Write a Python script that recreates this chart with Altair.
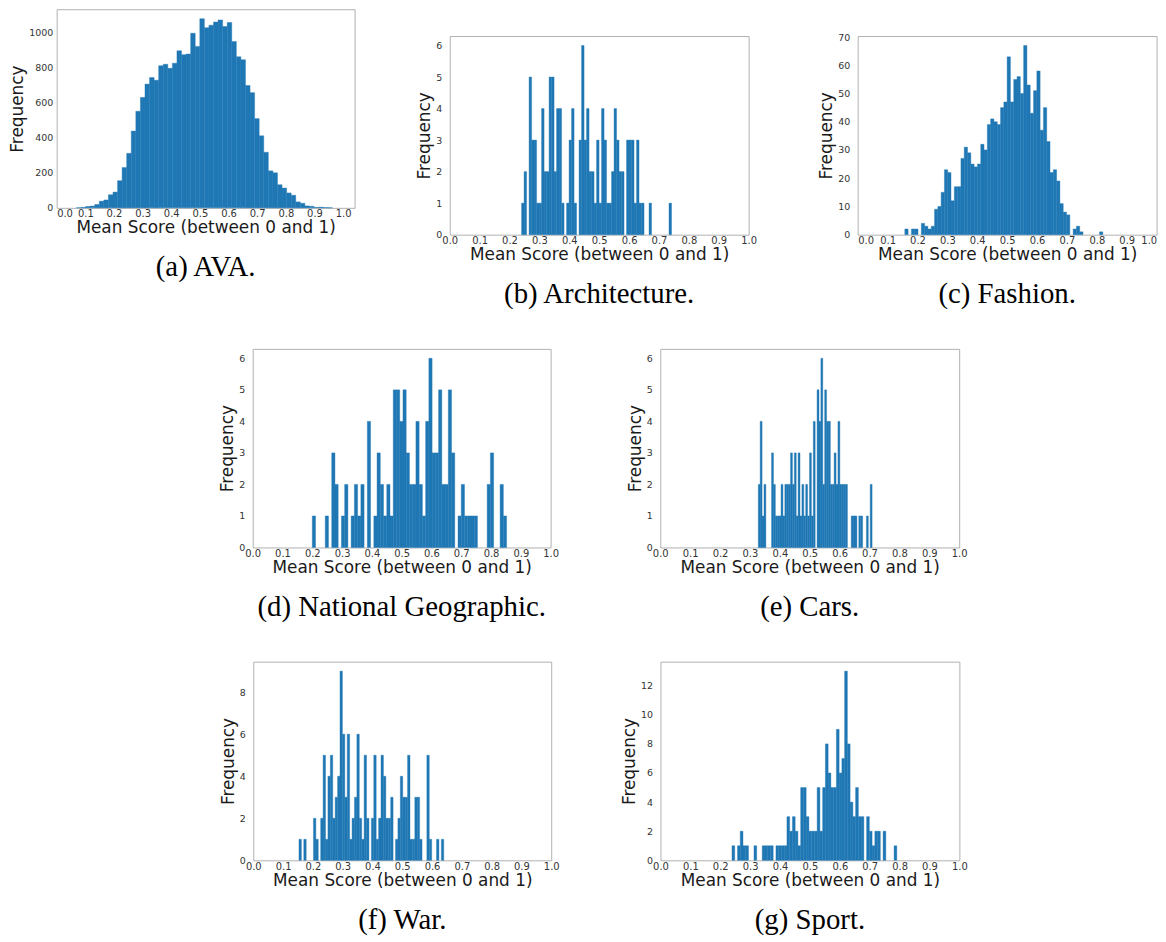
import altair as alt
import pandas as pd

# ---------------- data (histogram counts) ----------------
ava_start, ava_width = 0.069, 0.01595
ava_counts = [1, 3, 8, 10, 19, 38, 45, 75, 90, 155,
              230, 311, 438, 551, 630, 706, 743, 728, 811, 819,
              796, 825, 896, 874, 877, 996, 921, 1079, 1028, 1042,
              1060, 1072, 1034, 1057, 949, 862, 845, 698, 657, 509,
              411, 317, 211, 200, 132, 113, 85, 72, 34, 26,
              11, 9, 3, 4, 2, 1]

arch_start, arch_width = 0.2404, 0.00836
arch_counts = [1, 2, 0, 5, 3, 3, 1, 1, 4, 2,
               2, 5, 5, 2, 4, 4, 1, 0, 1, 3,
               4, 1, 0, 3, 6, 3, 4, 2, 2, 1,
               3, 1, 4, 3, 1, 1, 2, 4, 3, 2,
               2, 0, 3, 3, 3, 1, 3, 1, 1, 0,
               0, 1, 0, 0, 0, 0, 0, 0, 0, 1]

fash_start, fash_width = 0.1577, 0.01104
fash_counts = [2, 0, 2, 2, 0, 4, 3, 2, 3, 9,
               10, 15, 23, 22, 12, 17, 17, 27, 31, 29,
               25, 24, 25, 32, 30, 39, 41, 40, 39, 45,
               47, 63, 47, 55, 56, 50, 67, 53, 43, 51,
               58, 37, 45, 33, 22, 23, 19, 11, 8, 7,
               0, 2, 3, 1, 0, 0, 0, 0, 0, 1]

natgeo_start, natgeo_width = 0.2, 0.01087
natgeo_counts = [1, 0, 0, 0, 1, 0, 3, 2, 0, 1,
                 2, 0, 1, 2, 1, 2, 0, 4, 0, 1,
                 3, 2, 1, 2, 1, 5, 5, 4, 5, 3,
                 2, 2, 4, 2, 1, 4, 6, 3, 3, 5,
                 2, 2, 5, 3, 0, 1, 2, 1, 1, 1,
                 1, 0, 0, 0, 2, 3, 0, 0, 2, 1]

cars_start, cars_width = 0.3279, 0.006346
cars_counts = [2, 4, 1, 2, 0, 0, 0, 3, 2, 1,
               1, 1, 2, 1, 2, 2, 2, 3, 2, 3,
               1, 3, 1, 2, 1, 2, 1, 3, 1, 4,
               0, 5, 4, 6, 2, 5, 4, 4, 2, 2,
               3, 2, 4, 2, 2, 2, 2, 0, 0, 1,
               1, 1, 0, 1, 1, 0, 0, 1, 0, 2]

war_start, war_width = 0.1533, 0.0081
war_counts = [1, 0, 1, 0, 0, 0, 2, 1, 0, 2,
              5, 1, 4, 5, 2, 3, 4, 9, 6, 3,
              6, 1, 2, 3, 6, 2, 1, 5, 2, 0,
              2, 5, 1, 2, 5, 4, 2, 2, 3, 0,
              1, 2, 4, 3, 3, 5, 1, 1, 3, 3,
              1, 0, 0, 5, 1, 0, 0, 1, 0, 1]

sport_start, sport_width = 0.2393, 0.00919
sport_counts = [1, 0, 1, 2, 1, 1, 0, 0, 1, 0,
                0, 1, 1, 1, 1, 0, 1, 1, 1, 1,
                3, 2, 3, 2, 1, 5, 5, 3, 2, 2,
                2, 5, 2, 5, 8, 6, 5, 5, 9, 6,
                7, 13, 8, 4, 3, 5, 3, 3, 0, 3,
                2, 1, 2, 2, 0, 2, 0, 0, 0, 1]

x_ticks = [0.0, 0.1, 0.2, 0.3, 0.4, 0.5, 0.6, 0.7, 0.8, 0.9, 1.0]
ava_yticks = [0, 200, 400, 600, 800, 1000]
six_yticks = [0, 1, 2, 3, 4, 5, 6]
fash_yticks = [0, 10, 20, 30, 40, 50, 60, 70]
war_yticks = [0, 2, 4, 6, 8]
sport_yticks = [0, 2, 4, 6, 8, 10, 12]

BLUE = "#1f77b4"
FRAME = "#b0b0b0"


def hist_df(start, width, counts):
    x0 = [start + i * width for i in range(len(counts))]
    return pd.DataFrame({
        "x0": x0,
        "x1": [v + width for v in x0],
        "count": counts,
        "base": [0] * len(counts),
    })


def panel(caption, start, width, counts, yticks, w, xmax=1.0, flush=False,
          ypad=8):
    df = hist_df(start, width, counts)
    df = df[df["count"] > 0]
    ymax = max(counts) * 1.05
    return (
        alt.Chart(df)
        .mark_bar(color=BLUE, stroke=BLUE, strokeWidth=0.4)
        .encode(
            x=alt.X(
                "x0:Q",
                scale=alt.Scale(domain=[0, xmax], nice=False, zero=False),
                axis=alt.Axis(values=x_ticks, format=".1f",
                              title="Mean Score (between 0 and 1)",
                              labelFlush=flush),
            ),
            x2="x1:Q",
            y=alt.Y(
                "count:Q",
                scale=alt.Scale(domain=[0, ymax], nice=False),
                axis=alt.Axis(values=yticks, format="d", title="Frequency",
                              labelPadding=ypad),
            ),
            y2="base:Q",
        )
        .properties(
            width=w,
            height=200,
            view=alt.ViewBackground(stroke=FRAME, strokeWidth=1),
            title=alt.TitleParams(
                caption, orient="bottom", anchor="middle", frame="group",
                offset=18, font="Liberation Serif", fontSize=29,
                fontWeight="normal", color="#000000",
            ),
        )
    )


def spacer(w, h):
    return (
        alt.Chart(pd.DataFrame({"v": [0]}))
        .mark_point(opacity=0, size=1)
        .encode(x=alt.value(1), y=alt.value(1))
        .properties(width=w, height=h,
                    view=alt.ViewBackground(stroke="transparent"))
    )


a = panel("(a) AVA.", ava_start, ava_width, ava_counts, ava_yticks, 300,
          xmax=1.04, flush=True, ypad=4)
b = panel("(b) Architecture.", arch_start, arch_width, arch_counts, six_yticks, 301)
c = panel("(c) Fashion.", fash_start, fash_width, fash_counts, fash_yticks, 301, flush=True)
d = panel("(d) National Geographic.", natgeo_start, natgeo_width, natgeo_counts, six_yticks, 300)
e = panel("(e) Cars.", cars_start, cars_width, cars_counts, six_yticks, 301)
f = panel("(f) War.", war_start, war_width, war_counts, war_yticks, 300)
g = panel("(g) Sport.", sport_start, sport_width, sport_counts, sport_yticks, 301)

B = alt.vconcat(spacer(301, 25), b, spacing=0)
C = alt.vconcat(spacer(301, 21), c, spacing=0)
row1 = alt.hconcat(a, B, C, spacing=59.8)
row2 = alt.hconcat(spacer(95.2, 10), d, e, spacing=66.4)
row3 = alt.hconcat(spacer(101.6, 10), f, g, spacing=60)

chart = (
    alt.vconcat(row1, row2, row3, spacing=38)
    .properties(padding={"left": 0, "top": -3, "right": 0, "bottom": 0})
    .configure_view(stroke=FRAME)
    .configure_axis(
        grid=False, domain=False, ticks=False, labelOverlap=False,
        labelFont="DejaVu Sans", labelFontSize=10, labelColor="#333333",
        titleFont="DejaVu Sans", titleFontWeight="normal", titleColor="#1a1a1a",
    )
    .configure_axisX(titleFontSize=17, labelPadding=1, titlePadding=1)
    .configure_axisY(titleFontSize=17, labelFontSize=9.5, titlePadding=2)
)

chart.save("out.html", embed_options={"renderer": "svg", "actions": False})
